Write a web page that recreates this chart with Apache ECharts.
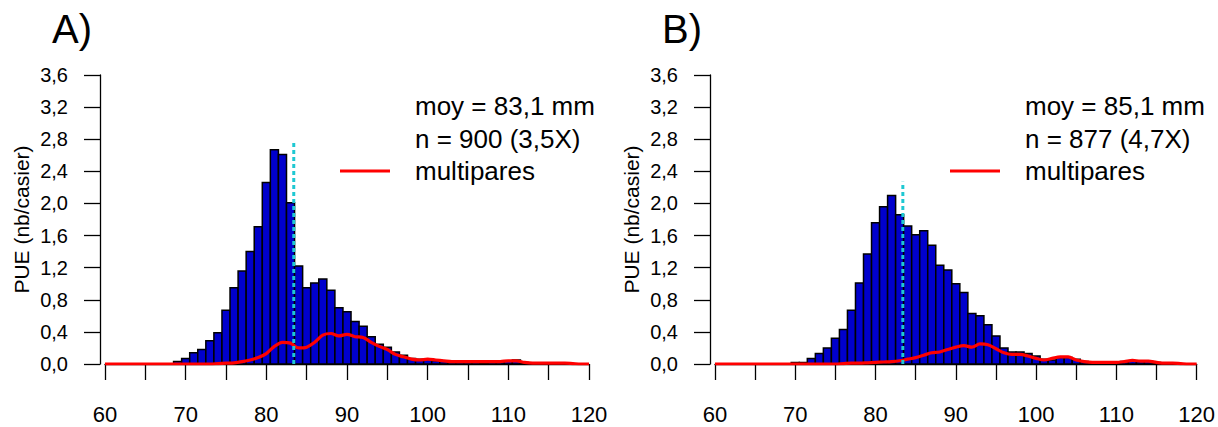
<!DOCTYPE html>
<html>
<head>
<meta charset="utf-8">
<script src="https://cdn.jsdelivr.net/npm/echarts@6/dist/echarts.min.js"></script>
<style>
html,body{margin:0;padding:0;background:#fff;}
#chart{width:1218px;height:427px;}
</style>
</head>
<body>
<div id="chart"></div>
<script>
// Bin centres (mm)
const binsMm = [60,61,62,63,64,65,66,67,68,69,70,71,72,73,74,75,76,77,78,79,80,81,82,83,84,85,86,87,88,89,90,91,92,93,94,95,96,97,98,99,100,101,102,103,104,105,106,107,108,109,110,111,112,113,114,115,116,117,118,119,120];

// Panel A: all individuals (PUE)
const pueA = [0,0,0,0,0,0,0,0,0,0.03,0.07,0.14,0.18,0.29,0.39,0.67,0.95,1.16,1.40,1.71,2.26,2.67,2.61,2.01,1.22,0.95,1.01,1.06,0.92,0.70,0.65,0.53,0.47,0.34,0.245,0.21,0.15,0.11,0.07,0.06,0.06,0.04,0.03,0.03,0.03,0.03,0.03,0.02,0.03,0.03,0.04,0.05,0.02,0.01,0.01,0.01,0,0.01,0,0,0];
// Panel A: multipares
const multiA = [0,0,0,0,0,0,0,0,0,0,0,0,0,0,0.005,0.01,0.015,0.03,0.05,0.08,0.13,0.22,0.27,0.26,0.20,0.21,0.27,0.36,0.38,0.35,0.37,0.34,0.33,0.27,0.22,0.18,0.12,0.09,0.06,0.05,0.06,0.05,0.04,0.03,0.03,0.03,0.03,0.03,0.03,0.03,0.04,0.04,0.02,0.01,0.01,0.01,0.01,0.01,0.005,0,0];

// Panel B
const pueB = [0,0,0,0,0,0,0,0,0,0,0.02,0.02,0.07,0.13,0.20,0.32,0.43,0.67,1.01,1.37,1.76,1.96,2.10,1.86,1.72,1.61,1.66,1.48,1.23,1.17,1.00,0.89,0.63,0.60,0.49,0.35,0.20,0.15,0.15,0.13,0.10,0.06,0.05,0.08,0.08,0.06,0.03,0.02,0.02,0.02,0.02,0.03,0.04,0.03,0.04,0.02,0.01,0.01,0,0,0];
const multiB = [0,0,0,0,0,0,0,0,0,0,0,0,0,0,0,0,0.005,0.01,0.01,0.015,0.02,0.025,0.03,0.04,0.06,0.08,0.11,0.14,0.15,0.18,0.21,0.23,0.21,0.25,0.24,0.19,0.14,0.12,0.12,0.10,0.07,0.05,0.07,0.09,0.09,0.05,0.03,0.02,0.02,0.02,0.02,0.03,0.045,0.035,0.035,0.02,0.01,0.01,0.005,0,0];

// Reference (dashed) line: x position and top
const refLineX = [83.4, 83.4];
const refLineTop = [2.76, 2.27];

// Annotation texts
const panelLabels = ['A)', 'B)'];
const meanTexts = ['moy = 83,1 mm', 'moy = 85,1 mm'];
const nTexts = ['n = 900 (3,5X)', 'n = 877 (4,7X)'];
const legendName = 'multipares';

// Axis
const yTicks = ['0,0','0,4','0,8','1,2','1,6','2,0','2,4','2,8','3,2','3,6'];
const xLabels = [60,70,80,90,100,110,120];

const FONT = '"Liberation Sans", Arial, sans-serif';
const chart = echarts.init(document.getElementById('chart'), null, {renderer: 'svg'});

function pairs(xs, ys){ return xs.map((x,i)=>[x, ys[i]]); }

function barRender(params, api){
  const x = api.value(0), y = api.value(1);
  if (!(y > 0)) return null;
  const p0 = api.coord([x - 0.5, y]);
  const p1 = api.coord([x + 0.5, 0]);
  return {
    type: 'rect',
    shape: {x: p0[0], y: p0[1], width: p1[0]-p0[0], height: p1[1]-p0[1]},
    style: {fill: '#0000cd', stroke: '#000', lineWidth: 1.5}
  };
}

const panelLeft = [105, 715];
const grids = panelLeft.map(l => ({left: l, width: 484, top: 75, height: 289, containLabel: false}));

const xAxes = grids.map((g,i)=>({
  gridIndex: i, type: 'value', min: 60, max: 120, interval: 5,
  axisLine: {show: true, lineStyle: {color: '#000', width: 1.3}},
  axisTick: {show: true, length: 16, lineStyle: {color: '#000', width: 1.3}},
  axisLabel: {
    show: true, margin: 39, color: '#000', fontFamily: FONT, fontSize: 22,
    showMinLabel: true, showMaxLabel: true,
    formatter: v => xLabels.indexOf(v) >= 0 ? String(v) : ''
  },
  splitLine: {show: false}
}));

const yAxes = grids.map((g,i)=>({
  gridIndex: i, type: 'value', min: 0, max: 3.6, interval: 0.4, offset: 5,
  name: 'PUE (nb/casier)', nameLocation: 'middle', nameGap: 68, nameRotate: 90,
  nameTextStyle: {color: '#000', fontFamily: FONT, fontSize: 21},
  axisLine: {show: true, lineStyle: {color: '#000', width: 1.3}},
  axisTick: {show: true, length: 16, lineStyle: {color: '#000', width: 1.3}},
  axisLabel: {
    show: true, margin: 32, color: '#000', fontFamily: FONT, fontSize: 20,
    formatter: v => yTicks[Math.round(v/0.4)]
  },
  splitLine: {show: false}
}));

const series = [];
[[pueA, multiA], [pueB, multiB]].forEach((d, i) => {
  series.push({
    type: 'custom', xAxisIndex: i, yAxisIndex: i,
    renderItem: barRender, data: pairs(binsMm, d[0]), z: 2
  });
  series.push({
    type: 'line', xAxisIndex: i, yAxisIndex: i, name: legendName,
    data: pairs(binsMm, d[1]), smooth: 0.3, showSymbol: false, symbol: 'none',
    lineStyle: {color: '#ff0000', width: 3.2}, z: 4
  });
  series.push({
    type: 'line', xAxisIndex: i, yAxisIndex: i,
    data: [[refLineX[i], 0], [refLineX[i], refLineTop[i]]],
    showSymbol: false, symbol: 'none',
    lineStyle: {color: '#1ec8d2', width: 3, type: [4, 3]}, z: 5
  });
});

const graphics = [];
panelLeft.forEach((l, i) => {
  const off = i * 610;
  graphics.push({type: 'text', left: 52 + off, top: 9,
    style: {text: panelLabels[i], font: '40px ' + FONT, fill: '#000'}});
  graphics.push({type: 'text', x: 415 + off, y: 106,
    style: {text: meanTexts[i], font: '26px ' + FONT, fill: '#000', verticalAlign: 'middle', align: 'left'}});
  graphics.push({type: 'text', x: 415 + off, y: 139,
    style: {text: nTexts[i], font: '26px ' + FONT, fill: '#000', verticalAlign: 'middle', align: 'left'}});
  graphics.push({type: 'text', x: 415 + off, y: 171,
    style: {text: legendName, font: '26px ' + FONT, fill: '#000', verticalAlign: 'middle', align: 'left'}});
  graphics.push({type: 'line', shape: {x1: 340 + off, y1: 171, x2: 390 + off, y2: 171},
    style: {stroke: '#ff0000', lineWidth: 3}});
});

chart.setOption({
  animation: false,
  backgroundColor: '#fff',
  grid: grids,
  xAxis: xAxes,
  yAxis: yAxes,
  series: series,
  graphic: graphics
});
</script>
</body>
</html>
